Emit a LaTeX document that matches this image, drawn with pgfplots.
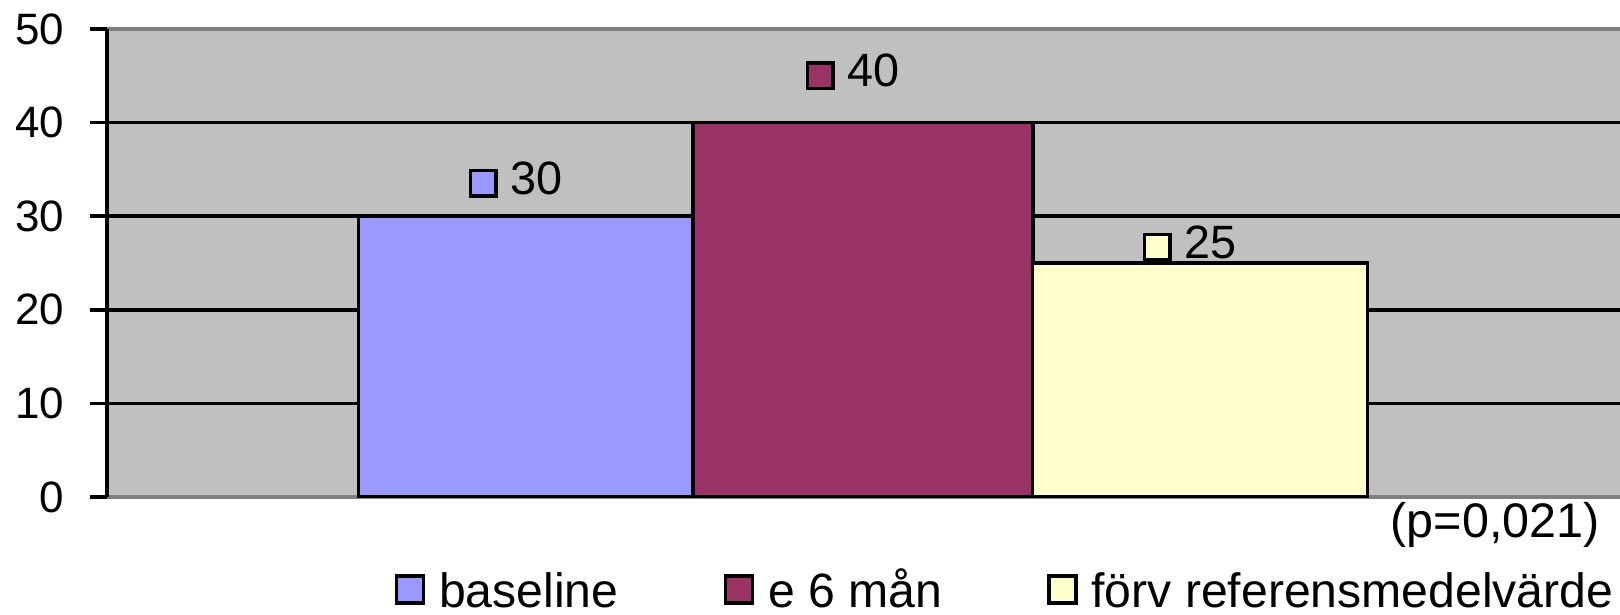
\documentclass[border=0pt]{standalone}
\usepackage{pgfplots}
\pgfplotsset{compat=1.18}
\usepackage{fontspec}
\setmainfont{Liberation Sans}

\definecolor{plotbg}{HTML}{C0C0C0}
\definecolor{framegray}{HTML}{808080}
\definecolor{basecol}{HTML}{9999FF}
\definecolor{sixcol}{HTML}{993366}
\definecolor{refcol}{HTML}{FFFFCC}

% small framed colour key used in front of each value label
\newcommand{\keybox}[1]{{\setlength{\fboxsep}{0pt}\setlength{\fboxrule}{0.035cm}%
  \fcolorbox{black}{#1}{\rule{0pt}{0.22cm}\hspace{0.22cm}}}}

\begin{document}
\begin{tikzpicture}
\begin{axis}[
  at={(0,0)}, anchor=south west,
  scale only axis, width=15.13cm, height=4.68cm,
  xmin=0, xmax=4.516, ymin=0, ymax=50,
  clip mode=individual,
  ytick={0,10,...,50}, xtick=\empty,
  ytick pos=left, tick align=outside,
  major tick length=0.17cm,
  tick style={black, line width=0.035cm},
  yticklabel style={font=\fontsize{12.5}{15}\selectfont, inner sep=0pt, xshift=-0.25cm},
  /pgf/number format/assume math mode=true,
  axis line style={draw=none},
  axis background/.style={fill=plotbg},
  ymajorgrids, major grid style={black, line width=0.035cm},
  ybar, bar width=1, bar shift=0pt,
  every node near coord/.append style={font=\fontsize{13.3}{16}\selectfont, xshift=-0.1cm, anchor=base},
  legend columns=3,
  legend image code/.code={\draw[#1, line width=0.035cm] (0cm,-0.105cm) rectangle (0.27cm,0.165cm);},
  legend style={draw=none, fill=none, inner sep=0pt, at={(0.1897,-0.2545)}, anchor=south west,
    font=\fontsize{13.7}{16}\selectfont,
    nodes={inner sep=0pt, text height=0.38cm, text depth=0.08cm},
    /tikz/every even column/.append style={column sep=1.05cm},
    /tikz/every odd column/.append style={column sep=0.14cm}},
]
% bottom frame line, kept under the bars
\draw[framegray, line width=0.035cm] (rel axis cs:0,0) -- (rel axis cs:1,0);

\addplot[fill=basecol, draw=black, line width=0.035cm,
  nodes near coords={\keybox{basecol}\hspace{0.13cm}\pgfmathprintnumber{\pgfplotspointmeta}},
  every node near coord/.append style={yshift=0.22cm}]
  coordinates {(1.25,30)};
\addlegendentry{baseline}

\addplot[fill=sixcol, draw=black, line width=0.035cm, bar width=1.015,
  nodes near coords={\keybox{sixcol}\hspace{0.13cm}\pgfmathprintnumber{\pgfplotspointmeta}},
  every node near coord/.append style={yshift=0.36cm}]
  coordinates {(2.256,40)};
\addlegendentry{e 6 mån}

\addplot[fill=refcol, draw=black, line width=0.035cm,
  nodes near coords={\keybox{refcol}\hspace{0.13cm}\pgfmathprintnumber{\pgfplotspointmeta}},
  every node near coord/.append style={yshift=0.05cm}]
  coordinates {(3.262,25)};
\addlegendentry{förv referensmedelvärde}

% top and left frame lines
\draw[framegray, line width=0.035cm] (rel axis cs:0,1) -- (rel axis cs:1,1);
\draw[black, line width=0.035cm] (rel axis cs:0,0) -- (rel axis cs:0,1);

\node[anchor=base east, font=\fontsize{13.8}{16}\selectfont, inner sep=0pt]
  at (rel axis cs:0.987,-0.0855) {(p=0,021)};
\end{axis}
\pgfresetboundingbox
\path[use as bounding box] (-1.07,-1.17) rectangle (15.13,4.97);
\end{tikzpicture}
\end{document}
